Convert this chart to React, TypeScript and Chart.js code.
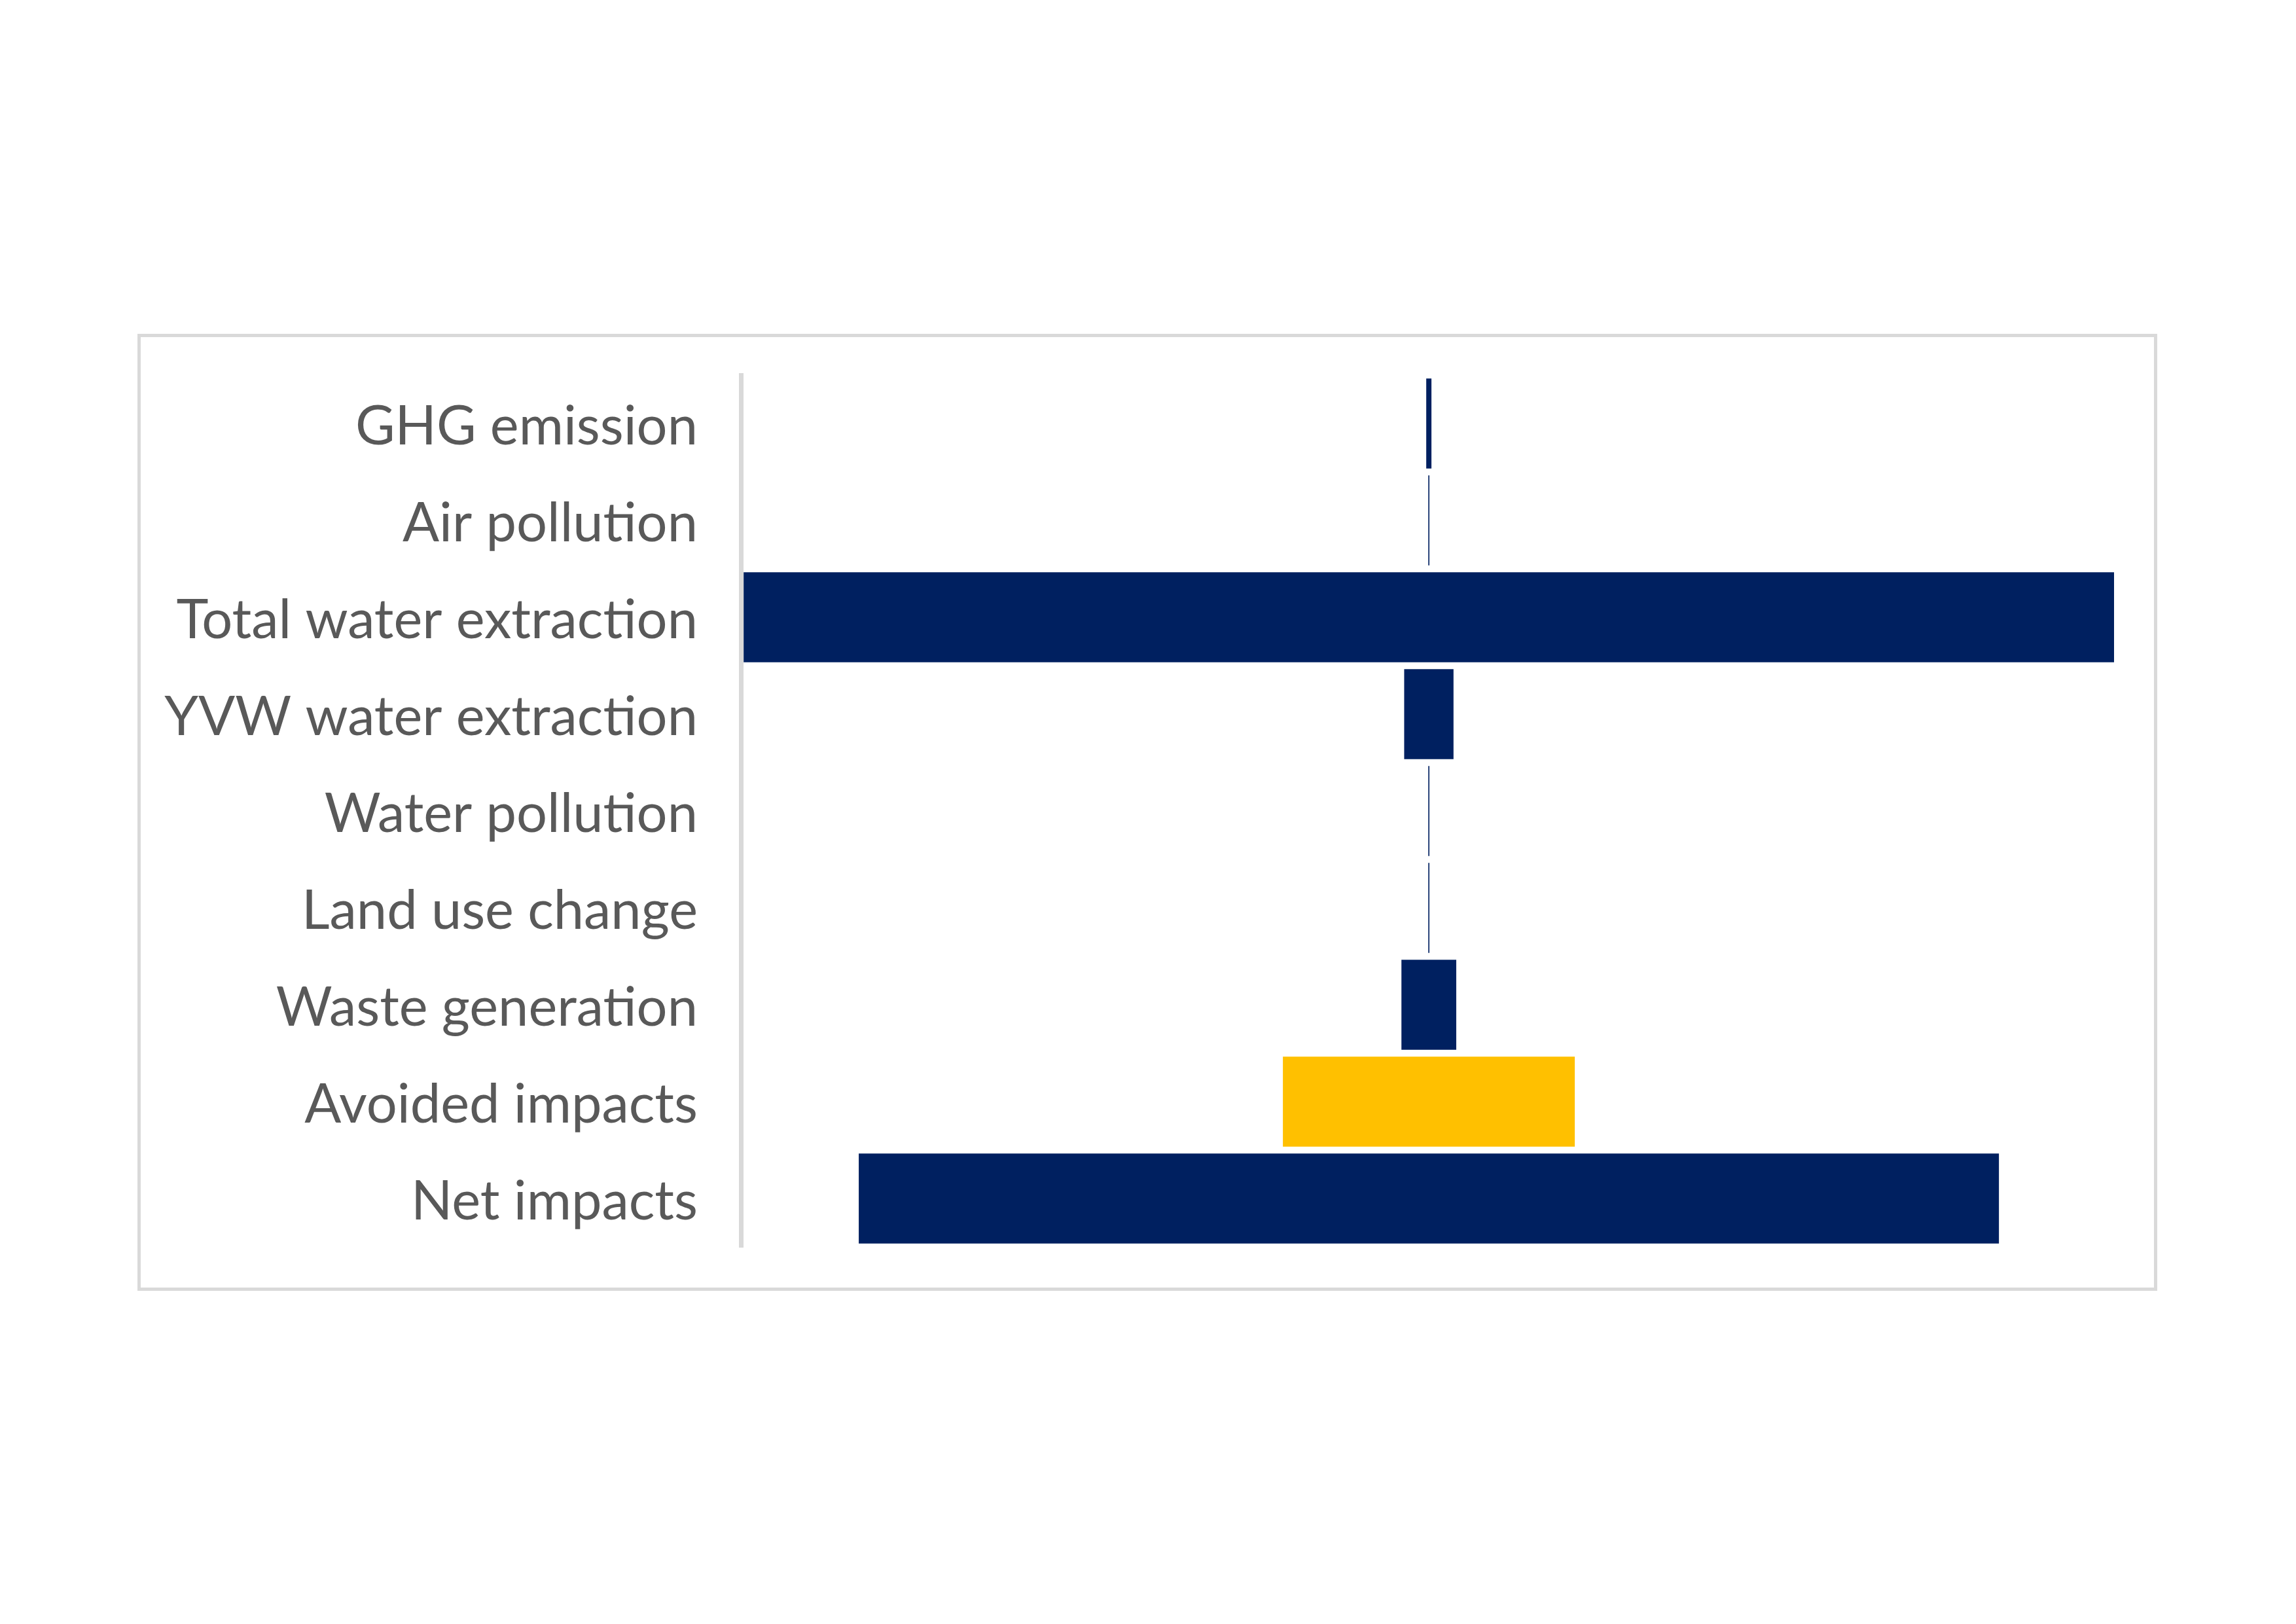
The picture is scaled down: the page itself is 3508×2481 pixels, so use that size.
import { useEffect, useRef } from "react";
import { Chart, registerables } from "chart.js";

Chart.register(...registerables);

// impact categories, top to bottom
const categories = [
  "GHG emission",
  "Air pollution",
  "Total water extraction",
  "YVW water extraction",
  "Water pollution",
  "Land use change",
  "Waste generation",
  "Avoided impacts",
  "Net impacts",
];

// relative size of each impact (Total water extraction = 100)
const impactValues = [0.38, 0.08, 100, 3.6, 0.08, 0.08, 4.0, 21.3, 83.2];

const NAVY = "#002060";
const GOLD = "#FFC000";
const barColors = categories.map((c) => (c === "Avoided impacts" ? GOLD : NAVY));

const CANVAS_W = 3076;
const CANVAS_H = 1452;

export default function App() {
  const chartRef = useRef<HTMLCanvasElement>(null);
  const chartInstance = useRef<Chart | null>(null);

  useEffect(() => {
    if (!chartRef.current) return;
    const ctx = chartRef.current.getContext("2d");
    if (!ctx) return;

    // each bar is centred on zero
    const ranges = impactValues.map((v) => [-v / 2, v / 2]);

    chartInstance.current = new Chart(ctx, {
      type: "bar",
      data: {
        labels: categories,
        datasets: [
          {
            data: ranges as any,
            backgroundColor: barColors,
            borderWidth: 0,
            barPercentage: 0.93,
            categoryPercentage: 1,
          },
        ],
      },
      options: {
        indexAxis: "y",
        responsive: false,
        animation: false,
        devicePixelRatio: 1,
        layout: {
          padding: { left: 0, right: 61, top: 58, bottom: 62 },
        },
        scales: {
          x: {
            display: false,
            min: -50.2,
            max: 50,
          },
          y: {
            afterFit: (scale) => {
              scale.width = 917;
            },
            // tick marks are hidden, their length only pushes the labels away from the axis
            grid: { display: false, drawTicks: true, tickLength: 66 },
            border: { display: true, color: "#d9d9d9", width: 7 },
            ticks: {
              padding: 0,
              labelOffset: 5,
              color: "#595959",
              font: { family: "Lato, 'Open Sans', sans-serif", size: 83 },
            },
          },
        },
        plugins: {
          legend: { display: false },
          tooltip: { enabled: false },
        },
      },
    });

    return () => {
      if (chartInstance.current) {
        chartInstance.current.destroy();
        chartInstance.current = null;
      }
    };
  }, []);

  return (
    <div
      style={{
        position: "absolute",
        left: 0,
        top: 0,
        width: 3508,
        height: 2481,
        background: "#ffffff",
        overflow: "hidden",
      }}
    >
      <div
        style={{
          position: "absolute",
          left: 210,
          top: 510,
          width: 3086,
          height: 1462,
          border: "5px solid #d9d9d9",
          boxSizing: "border-box",
          background: "#ffffff",
        }}
      >
        <canvas
          ref={chartRef}
          width={CANVAS_W}
          height={CANVAS_H}
          style={{ display: "block", width: CANVAS_W, height: CANVAS_H }}
        />
      </div>
    </div>
  );
}
